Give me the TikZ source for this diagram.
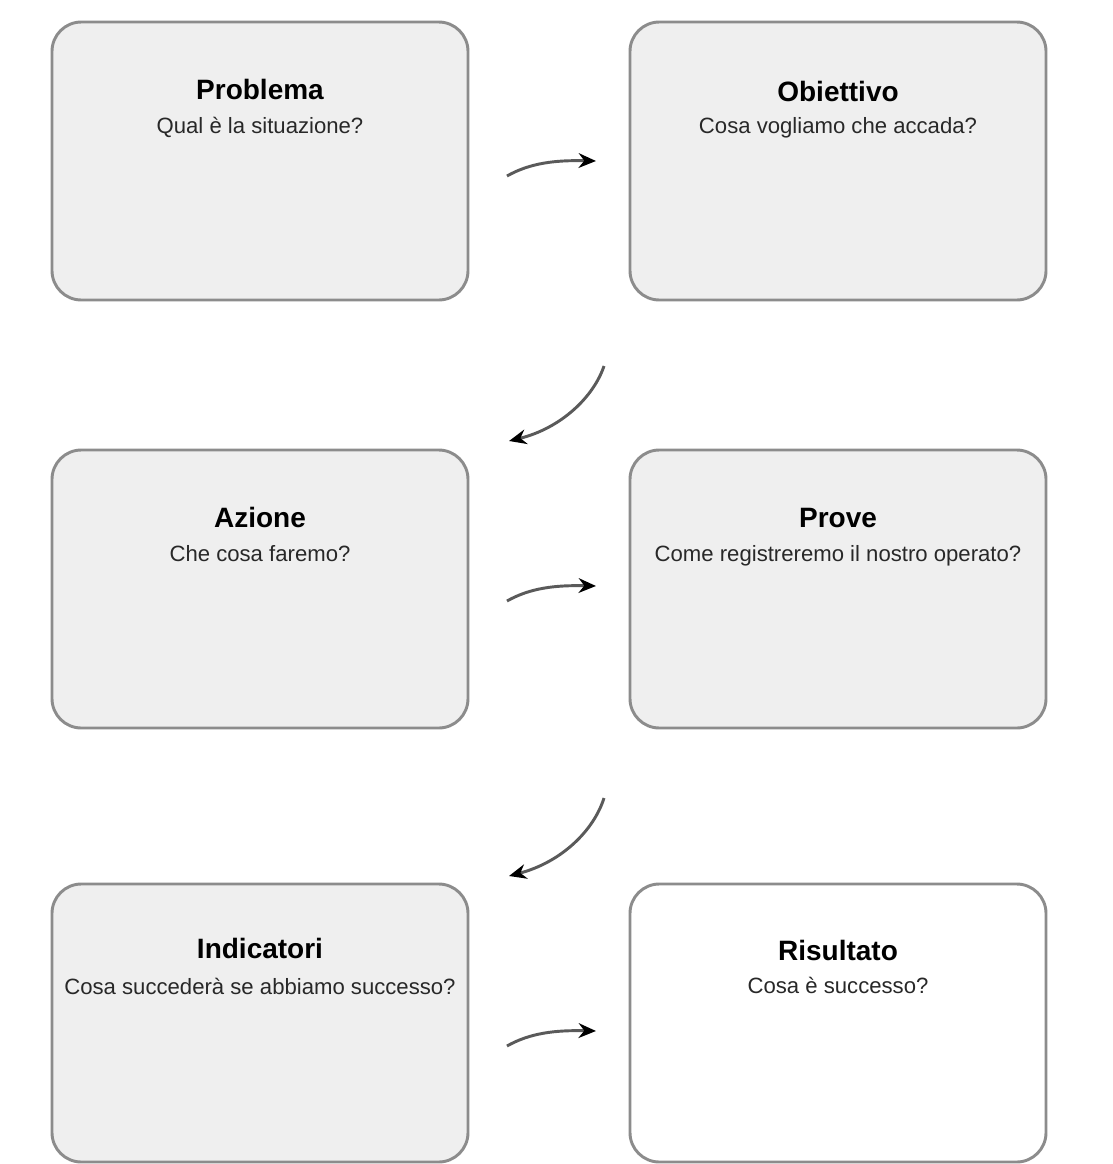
\documentclass[tikz,border=0pt]{standalone}
\usepackage{fontspec}
\setmainfont{Liberation Sans}
\usetikzlibrary{arrows.meta,positioning}

\tikzset{every picture/.style={line width=0.75pt}}
\tikzset{
  stepbox/.style={draw={rgb,255:red,140;green,140;blue,140},line width=2.2pt,rounded corners=22pt,
    fill={rgb,255:red,239;green,239;blue,239},minimum width=312pt,minimum height=208.5pt,inner sep=0pt},
  head/.style={font=\fontsize{21}{24}\selectfont\bfseries,inner sep=0.75pt,anchor=base},
  sub/.style={font=\fontsize{16.6}{20}\selectfont,text={rgb,255:red,40;green,40;blue,40},inner sep=0.75pt,anchor=base},
  flow/.style={draw={rgb,255:red,90;green,90;blue,90},line width=2.2pt,
    -{Stealth[length=13pt,width=11pt,color=black]}}
}

\begin{document}
\begin{tikzpicture}[x=0.75pt,y=0.75pt,yscale=-1,xscale=1]
%set diagram at 1113 x 1164
\fill[white] (0,0) rectangle (1113,1164);
\useasboundingbox (0,0) rectangle (1113,1164);

%Shape: Rounded Rect
\node[stepbox] (problema) at (260,161) {};
\node[stepbox] (obiettivo) at (838,161) {};
\node[stepbox] (azione) at (260,589) {};
\node[stepbox] (prove) at (838,589) {};
\node[stepbox] (indicatori) at (260,1023) {};
\node[stepbox,fill=white] (risultato) at (838,1023) {};

% Text Node
\node[head] (problemaH) at ([yshift=59pt]problema.north) {Problema};
\node[sub] (problemaS) at ([yshift=25.5pt]problemaH.base) {Qual è la situazione?};
% Text Node
\node[head] (obiettivoH) at ([yshift=61pt]obiettivo.north) {Obiettivo};
\node[sub] (obiettivoS) at ([yshift=24pt]obiettivoH.base) {Cosa vogliamo che accada?};
% Text Node
\node[head] (azioneH) at ([yshift=59pt]azione.north) {Azione};
\node[sub] (azioneS) at ([yshift=25.5pt]azioneH.base) {Che cosa faremo?};
% Text Node
\node[head] (proveH) at ([yshift=59pt]prove.north) {Prove};
\node[sub] (proveS) at ([yshift=26pt]proveH.base) {Come registreremo il nostro operato?};
% Text Node
\node[head] (indicatoriH) at ([yshift=57pt]indicatori.north) {Indicatori};
\node[sub] (indicatoriS) at ([yshift=27pt]indicatoriH.base) {Cosa succederà se abbiamo successo?};
% Text Node
\node[head] (risultatoH) at ([yshift=58.5pt]risultato.north) {Risultato};
\node[sub] (risultatoS) at ([yshift=25pt]risultatoH.base) {Cosa è successo?};

%Curve Lines
\coordinate (a1s) at (507,176);
\coordinate (a1e) at (596,161);
\coordinate (a2s) at (604,366);
\coordinate (a2e) at (509,441);
\coordinate (a3s) at (507,601);
\coordinate (a3e) at (596,586);
\coordinate (a4s) at (604,798);
\coordinate (a4e) at (509,876);
\coordinate (a5s) at (507,1046);
\coordinate (a5e) at (596,1031);

\draw[flow] (a1s) .. controls (530,163) and (555,160) .. (a1e);
\draw[flow] (a2s) .. controls (594,396) and (562,428) .. (a2e);
\draw[flow] (a3s) .. controls (530,588) and (555,585) .. (a3e);
\draw[flow] (a4s) .. controls (594,830) and (562,862) .. (a4e);
\draw[flow] (a5s) .. controls (530,1033) and (555,1030) .. (a5e);

\end{tikzpicture}
\end{document}
